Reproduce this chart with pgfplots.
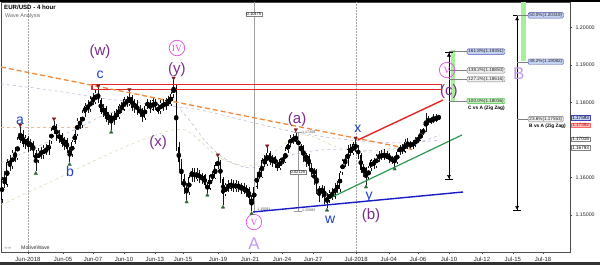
\documentclass[border=0pt]{standalone}
\usepackage{pgfplots}
\pgfplotsset{compat=1.18}
\usepackage{pgfplotstable}
\usetikzlibrary{arrows.meta}
\usepackage{fontspec}
\setmainfont{Liberation Sans}
\newfontfamily\serifnum{Liberation Serif}
\newfontfamily\dejavu{DejaVu Sans}
\newcommand{\fs}[1]{\fontsize{#1}{#1}\selectfont}

\definecolor{wpurple}{HTML}{7A2A8C}
\definecolor{wblue}{HTML}{1E3FD0}
\definecolor{wpink}{HTML}{E050E0}
\definecolor{wlav}{HTML}{C49AE8}
\definecolor{trired}{HTML}{7A1E1E}
\definecolor{trigreen}{HTML}{2F6A3A}
\definecolor{orng}{HTML}{F0883A}
\definecolor{hlgreen}{HTML}{A6F09A}
\definecolor{fibblue}{HTML}{C5D3F2}
\definecolor{fibgreen}{HTML}{C6F0C0}
\definecolor{fibgray}{HTML}{F0F0F0}
\definecolor{tline}{HTML}{2E9A50}
\definecolor{bline}{HTML}{1A1AC8}
\definecolor{rline}{HTML}{E52626}
\definecolor{malav}{HTML}{B8ACDA}
\definecolor{magray}{HTML}{A8B8D0}
\definecolor{matan}{HTML}{D2D8A4}

% EUR/USD 4-hour candles: index, open, high, low, close
\pgfplotstableread{
t o h l c
0 1.1540 1.1602 1.1532 1.1595
1 1.1595 1.1618 1.1572 1.1580
2 1.1580 1.1650 1.1575 1.1640
3 1.1640 1.1660 1.1618 1.1628
4 1.1628 1.1672 1.1622 1.1665
5 1.1665 1.1680 1.1642 1.1650
6 1.1650 1.1708 1.1646 1.1700
7 1.1700 1.1734 1.1692 1.1715
8 1.1715 1.1725 1.1680 1.1688
9 1.1688 1.1712 1.1675 1.1705
10 1.1705 1.1710 1.1668 1.1680
11 1.1680 1.1702 1.1670 1.1695
12 1.1695 1.1698 1.1655 1.1665
13 1.1665 1.1672 1.1616 1.1645
14 1.1645 1.1678 1.1638 1.1670
15 1.1670 1.1682 1.1650 1.1658
16 1.1658 1.1685 1.1650 1.1678
17 1.1678 1.1688 1.1660 1.1665
18 1.1665 1.1700 1.1660 1.1695
19 1.1695 1.1732 1.1688 1.1725
20 1.1725 1.1750 1.1715 1.1738
21 1.1738 1.1742 1.1698 1.1705
22 1.1705 1.1725 1.1692 1.1712
23 1.1712 1.1718 1.1680 1.1690
24 1.1690 1.1708 1.1672 1.1700
25 1.1700 1.1705 1.1665 1.1675
26 1.1675 1.1682 1.1640 1.1660
27 1.1660 1.1700 1.1655 1.1695
28 1.1695 1.1725 1.1688 1.1715
29 1.1715 1.1758 1.1710 1.1750
30 1.1750 1.1762 1.1728 1.1738
31 1.1738 1.1780 1.1732 1.1772
32 1.1772 1.1798 1.1762 1.1790
33 1.1790 1.1805 1.1772 1.1780
34 1.1780 1.1818 1.1775 1.1810
35 1.1810 1.1825 1.1792 1.1800
36 1.1800 1.1834 1.1796 1.1825
37 1.1825 1.1838 1.1798 1.1805
38 1.1805 1.1812 1.1770 1.1775
39 1.1775 1.1795 1.1762 1.1785
40 1.1785 1.1790 1.1748 1.1755
41 1.1755 1.1775 1.1740 1.1768
42 1.1768 1.1772 1.1726 1.1745
43 1.1745 1.1778 1.1740 1.1770
44 1.1770 1.1782 1.1752 1.1760
45 1.1760 1.1796 1.1755 1.1790
46 1.1790 1.1802 1.1772 1.1780
47 1.1780 1.1815 1.1776 1.1808
48 1.1808 1.1818 1.1788 1.1795
49 1.1795 1.1828 1.1790 1.1815
50 1.1815 1.1820 1.1778 1.1785
51 1.1785 1.1810 1.1772 1.1800
52 1.1800 1.1805 1.1765 1.1772
53 1.1772 1.1792 1.1760 1.1782
54 1.1782 1.1786 1.1747 1.1758
55 1.1758 1.1796 1.1754 1.1790
56 1.1790 1.1810 1.1782 1.1800
57 1.1800 1.1805 1.1772 1.1780
58 1.1780 1.1812 1.1776 1.1805
59 1.1805 1.1810 1.1780 1.1788
60 1.1788 1.1795 1.1768 1.1775
61 1.1775 1.1806 1.1770 1.1800
62 1.1800 1.1808 1.1778 1.1785
63 1.1785 1.1812 1.1780 1.1805
64 1.1805 1.1818 1.1790 1.1795
65 1.1795 1.1828 1.1790 1.1822
66 1.1822 1.1859 1.1812 1.1840
67 1.1840 1.1845 1.1670 1.1680
68 1.1680 1.1695 1.1620 1.1640
69 1.1640 1.1648 1.1580 1.1595
70 1.1595 1.1610 1.1555 1.1575
71 1.1575 1.1585 1.1540 1.1560
72 1.1560 1.1606 1.1552 1.1600
73 1.1600 1.1625 1.1588 1.1620
74 1.1620 1.1626 1.1588 1.1595
75 1.1595 1.1625 1.1590 1.1615
76 1.1615 1.1620 1.1585 1.1592
77 1.1592 1.1612 1.1582 1.1605
78 1.1605 1.1610 1.1572 1.1580
79 1.1580 1.1588 1.1558 1.1570
80 1.1570 1.1610 1.1565 1.1605
81 1.1605 1.1618 1.1590 1.1598
82 1.1598 1.1640 1.1595 1.1632
83 1.1632 1.1654 1.1622 1.1640
84 1.1640 1.1646 1.1585 1.1595
85 1.1595 1.1600 1.1526 1.1555
86 1.1555 1.1586 1.1550 1.1580
87 1.1580 1.1592 1.1562 1.1570
88 1.1570 1.1595 1.1564 1.1588
89 1.1588 1.1592 1.1560 1.1568
90 1.1568 1.1594 1.1562 1.1585
91 1.1585 1.1590 1.1560 1.1570
92 1.1570 1.1586 1.1555 1.1578
93 1.1578 1.1584 1.1555 1.1562
94 1.1562 1.1580 1.1548 1.1570
95 1.1570 1.1574 1.1530 1.1545
96 1.1545 1.1552 1.1509 1.1530
97 1.1530 1.1582 1.1525 1.1575
98 1.1575 1.1615 1.1568 1.1610
99 1.1610 1.1625 1.1595 1.1600
100 1.1600 1.1652 1.1598 1.1645
101 1.1645 1.1660 1.1628 1.1635
102 1.1635 1.1678 1.1630 1.1665
103 1.1665 1.1670 1.1632 1.1640
104 1.1640 1.1660 1.1628 1.1655
105 1.1655 1.1658 1.1625 1.1635
106 1.1635 1.1645 1.1618 1.1625
107 1.1625 1.1652 1.1620 1.1648
108 1.1648 1.1660 1.1635 1.1640
109 1.1640 1.1680 1.1638 1.1672
110 1.1672 1.1698 1.1665 1.1688
111 1.1688 1.1712 1.1680 1.1705
112 1.1705 1.1715 1.1688 1.1695
113 1.1695 1.1721 1.1690 1.1710
114 1.1710 1.1715 1.1668 1.1675
115 1.1675 1.1690 1.1660 1.1682
116 1.1682 1.1686 1.1640 1.1650
117 1.1650 1.1665 1.1628 1.1658
118 1.1658 1.1662 1.1618 1.1630
119 1.1630 1.1638 1.1600 1.1610
120 1.1610 1.1625 1.1580 1.1618
121 1.1618 1.1622 1.1555 1.1570
122 1.1570 1.1578 1.1535 1.1560
123 1.1560 1.1580 1.1545 1.1572
124 1.1572 1.1576 1.1530 1.1545
125 1.1545 1.1558 1.1518 1.1538
126 1.1538 1.1566 1.1532 1.1560
127 1.1560 1.1572 1.1540 1.1548
128 1.1548 1.1586 1.1542 1.1580
129 1.1580 1.1590 1.1558 1.1568
130 1.1568 1.1618 1.1562 1.1612
131 1.1612 1.1650 1.1605 1.1645
132 1.1645 1.1660 1.1628 1.1635
133 1.1635 1.1685 1.1630 1.1675
134 1.1675 1.1688 1.1658 1.1665
135 1.1665 1.1694 1.1660 1.1688
136 1.1688 1.1699 1.1668 1.1675
137 1.1675 1.1685 1.1650 1.1660
138 1.1660 1.1665 1.1612 1.1620
139 1.1620 1.1635 1.1600 1.1625
140 1.1625 1.1628 1.1580 1.1600
141 1.1600 1.1630 1.1592 1.1625
142 1.1625 1.1650 1.1618 1.1645
143 1.1645 1.1652 1.1622 1.1630
144 1.1630 1.1662 1.1625 1.1658
145 1.1658 1.1670 1.1642 1.1650
146 1.1650 1.1672 1.1645 1.1665
147 1.1665 1.1675 1.1645 1.1650
148 1.1650 1.1670 1.1648 1.1662
149 1.1662 1.1666 1.1638 1.1645
150 1.1645 1.1658 1.1635 1.1652
151 1.1652 1.1658 1.1628 1.1640
152 1.1640 1.1672 1.1636 1.1668
153 1.1668 1.1686 1.1660 1.1680
154 1.1680 1.1690 1.1662 1.1668
155 1.1668 1.1702 1.1665 1.1695
156 1.1695 1.1705 1.1675 1.1682
157 1.1682 1.1698 1.1672 1.1692
158 1.1692 1.1700 1.1675 1.1685
159 1.1685 1.1708 1.1682 1.1702
160 1.1702 1.1712 1.1692 1.1698
161 1.1698 1.1728 1.1696 1.1720
162 1.1720 1.1732 1.1712 1.1725
163 1.1725 1.1772 1.1720 1.1758
164 1.1758 1.1764 1.1740 1.1745
165 1.1745 1.1762 1.1742 1.1758
166 1.1758 1.1768 1.1746 1.1750
167 1.1750 1.1768 1.1748 1.1762
168 1.1762 1.1766 1.1752 1.1759
}\candles

\begin{document}
\begin{tikzpicture}[x=1pt,y=1pt]
\path[use as bounding box] (0,0) rectangle (600,265);
\fill[white] (0,0) rectangle (600,265);
\begin{axis}[
  at={(1pt,13pt)}, anchor=south west,
  scale only axis, width=569pt, height=250pt,
  xmin=-0.385, xmax=218.46, ymin=1.14008, ymax=1.20675,
  clip=false,
  axis line style={black!70, line width=0.5pt},
  tick align=outside, xtick pos=bottom, ytick pos=right, yticklabel pos=right,
  major tick length=2pt, minor tick length=1.2pt,
  tick style={black!70, line width=0.4pt},
  xtick={10,23.5,35,46.9,58.8,69.6,83.1,95.4,107.7,119.6,136.2,148.8,160,171.9,184.6,196.5,208.1},
  xticklabels={Jun-2018,Jun-05,Jun-07,Jun-10,Jun-13,Jun-15,Jun-19,Jun-21,Jun-24,Jun-27,Jul-2018,Jul-04,Jul-06,Jul-10,Jul-12,Jul-15,Jul-18},
  ytick={1.15,1.16,1.17,1.18,1.19,1.20},
  yticklabels={1.15000,1.16000,{},1.18000,1.19000,1.20000},
  minor ytick={1.141,1.142,...,1.206},
  scaled y ticks=false,
  xticklabel style={font=\fs{6}, text=black!85},
  yticklabel style={font=\fs{5.3}, text=black!85},
]

% month separators
\addplot[gray!70, densely dotted, line width=0.5pt] coordinates {(10,1.14008)(10,1.20675)};
\addplot[gray!70, densely dotted, line width=0.5pt] coordinates {(136.2,1.14008)(136.2,1.20675)};

% moving averages
\addplot[malav, dashed, line width=0.5pt, smooth] coordinates {(-0.4,1.18488)(18.5,1.18328)(37.7,1.18115)(56.9,1.17955)(76.2,1.17795)(95.4,1.17475)(114.6,1.17181)(133.8,1.16995)(153.1,1.16915)(168.5,1.16995)};
\addplot[magray, dashed, line width=0.5pt, smooth] coordinates {(-0.4,1.16381)(10.8,1.16728)(30,1.17341)(41.5,1.17715)(56.9,1.17848)(67.3,1.17875)(78.8,1.16915)(86.5,1.16461)(95.4,1.16248)(103.1,1.16408)(110.8,1.16595)(122.3,1.16728)(133.8,1.16728)(145.4,1.16728)(156.9,1.16861)(168.5,1.17128)};
\addplot[matan, dashed, line width=0.5pt, smooth] coordinates {(-0.4,1.15261)(18.5,1.15875)(37.7,1.16515)(56.9,1.17075)(70.4,1.17261)(83.8,1.16515)(97.3,1.16328)(114.6,1.17128)(130,1.16781)(145.4,1.16675)(160.8,1.16995)};
\addplot[orng!60, dashed, line width=0.5pt] coordinates {(-0.4,1.17341)(33,1.17341)};

% candles: wicks
\addplot[only marks, mark=none, error bars/.cd, y dir=both, y explicit, error mark=none,
  error bar style={black!90, line width=0.45pt}]
  table[x=t, y expr={(\thisrow{h}+\thisrow{l})/2}, y error expr={(\thisrow{h}-\thisrow{l})/2}] {\candles};
% candles: falling bodies
\addplot[only marks, mark=none, unbounded coords=discard, error bars/.cd, y dir=both, y explicit, error mark=none,
  error bar style={black, line width=1.4pt}]
  table[x=t, y expr={\thisrow{c}<\thisrow{o} ? (\thisrow{o}+\thisrow{c})/2 : nan}, y error expr={max(abs(\thisrow{o}-\thisrow{c})/2,0.00004)}] {\candles};
% candles: rising bodies (hollow)
\addplot[only marks, mark=none, unbounded coords=discard, error bars/.cd, y dir=both, y explicit, error mark=none,
  error bar style={black, line width=1.5pt}]
  table[x=t, y expr={\thisrow{c}>\thisrow{o} ? (\thisrow{o}+\thisrow{c})/2 : nan}, y error expr={max(abs(\thisrow{o}-\thisrow{c})/2,0.00004)}] {\candles};
\addplot[only marks, mark=none, unbounded coords=discard, error bars/.cd, y dir=both, y explicit, error mark=none,
  error bar style={white, line width=0.8pt}]
  table[x=t, y expr={\thisrow{c}>\thisrow{o} ? (\thisrow{o}+\thisrow{c})/2 : nan}, y error expr={max(abs(\thisrow{o}-\thisrow{c})/2-0.00010,0.00001)}] {\candles};

% measurements
\addplot[gray!75, line width=0.5pt] coordinates {(96.9,1.15091)(96.9,1.20675)};
\addplot[gray!80, line width=0.5pt, {Bar[width=8pt]}-{Bar[width=8pt]}] coordinates {(113.8,1.17208)(113.8,1.15083)};

% resistance zone
\addplot[rline, line width=1.1pt] coordinates {(34.6,1.18475)(169.2,1.18475)(169.2,1.18341)(34.6,1.18341)} --cycle;

% trend lines
\addplot[orng, line width=1.3pt, dash pattern=on 5pt off 3pt] coordinates {(-0.4,1.18941)(157.7,1.16744)};
\addplot[bline, line width=1.4pt] coordinates {(96.5,1.15075)(177.3,1.15608)};
\addplot[tline, line width=1.2pt] coordinates {(126.2,1.15448)(176.9,1.17128)};
\addplot[rline, line width=1.4pt] coordinates {(136.9,1.16995)(169.6,1.18061)};

% swing markers
\addplot[only marks, mark=triangle*, mark size=2pt, color=trired, mark options={yshift=2.2pt, rotate=180}]
  coordinates {(7,1.1734)(20,1.1750)(37,1.1838)(49,1.1828)(66,1.1859)(83,1.1654)(102,1.1678)(113,1.1721)(136,1.1699)};
\addplot[only marks, mark=triangle*, mark size=2pt, color=trigreen, mark options={yshift=-2.2pt}]
  coordinates {(13,1.1616)(26,1.1640)(42,1.1726)(71,1.1540)(79,1.1558)(85,1.1526)(96,1.1509)(125,1.1518)(140,1.1580)(151,1.1628)};

% Fibonacci projections
\addplot[hlgreen, fill=hlgreen, draw=none] coordinates {(172.5,1.19395)(174.4,1.19395)(174.4,1.18035)(172.5,1.18035)} --cycle;
\addplot[hlgreen, fill=hlgreen, draw=none] coordinates {(199.6,1.20675)(201.5,1.20675)(201.5,1.19101)(199.6,1.19101)} --cycle;
\addplot[black, line width=0.6pt, {Bar[width=8pt]}-{Bar[width=8pt]}] coordinates {(171.9,1.19351)(171.9,1.15928)};
\addplot[black, line width=0.6pt, {Bar[width=8pt]}-{Bar[width=8pt]}] coordinates {(198.1,1.20319)(198.1,1.15101)};
\addplot[only marks, mark=triangle*, mark size=1.8pt, black] coordinates {(171.9,1.19250)(198.1,1.20218)};
\addplot[only marks, mark=triangle*, mark size=1.8pt, black, mark options={rotate=180}] coordinates {(171.9,1.16030)(198.1,1.15203)};
\addplot[gray, line width=0.4pt] coordinates {(171.9,1.19351)(178.8,1.19351)};
\addplot[gray, line width=0.4pt] coordinates {(171.9,1.18850)(178.8,1.18850)};
\addplot[gray, line width=0.4pt] coordinates {(171.9,1.18616)(178.8,1.18616)};
\addplot[gray, line width=0.4pt] coordinates {(171.9,1.18036)(178.8,1.18036)};
\addplot[gray, line width=0.4pt] coordinates {(198.1,1.20319)(202.3,1.20319)};
\addplot[gray, line width=0.4pt] coordinates {(198.1,1.19082)(202.3,1.19082)};
\addplot[gray, line width=0.4pt] coordinates {(198.1,1.17553)(202.3,1.17553)};

\tikzset{
  fib/.style={anchor=west, rounded corners=1.2pt, line width=0.4pt, font=\fs{4.6}, text=black!85, inner xsep=1.3pt, inner ysep=0.6pt},
  pbox/.style={anchor=west, line width=0.4pt, font=\fs{4.6}, inner xsep=1pt, inner ysep=0.6pt},
  purp/.style={text=wpurple, font=\fs{15}, inner sep=0pt},
  blu/.style={text=wblue, font=\fs{14}, inner sep=0pt},
  circ/.style={circle, draw=wpink, line width=0.7pt, minimum size=15.5pt, inner sep=0pt, text=wpink, font=\serifnum\fs{9.5}},
}
\node[fib, draw=blue!40!gray, fill=fibblue] at (axis cs:178.8,1.19351) {161.8\%(1.19351)};
\node[fib, draw=gray, fill=fibgray] at (axis cs:178.8,1.18850) {138.2\%(1.18850)};
\node[fib, draw=gray, fill=fibgray] at (axis cs:178.8,1.18616) {127.2\%(1.18616)};
\node[fib, draw=green!50!gray, fill=fibgreen] at (axis cs:178.8,1.18036) {100.0\%(1.18036)};
\node[anchor=west, font=\bfseries\fs{4.8}, inner sep=0pt] at (axis cs:179.2,1.17848) {C vs A (Zig Zag)};
\node[fib, draw=blue!40!gray, fill=fibblue] at (axis cs:202.3,1.20319) {50.0\%(1.20319)};
\node[fib, draw=blue!40!gray, fill=fibblue] at (axis cs:202.3,1.19082) {38.2\%(1.19082)};
\node[fib, draw=gray, fill=fibgray] at (axis cs:202.3,1.17553) {23.6\%(1.17553)};
\node[anchor=west, font=\bfseries\fs{4.8}, inner sep=0pt] at (axis cs:202.7,1.17355) {B vs A (Zig Zag)};

% price tags on the price scale
\node[pbox, draw=blue!50!gray, fill=fibblue] at (axis cs:218.9,1.17593) {1.17593};
\node[pbox, draw=red!60, fill=red!25, text=red!70!black] at (axis cs:218.9,1.17392) {1.17392};
\node[pbox, draw=gray, fill=white] at (axis cs:218.9,1.17015) {1.17015};
\node[pbox, draw=gray, fill=white] at (axis cs:218.9,1.16793) {1.16793};

% measurement tags
\node[draw=gray, fill=white, font=\fs{4}, inner sep=0.8pt] at (axis cs:96.9,1.20355) {0.10475};
\node[draw=gray, fill=white, font=\fs{4}, inner sep=0.8pt] at (axis cs:113.8,1.16141) {0.02125};
\node[anchor=west, font=\fs{3.6}, text=black!70, inner sep=0pt] at (axis cs:115.4,1.17208) {1.17208};
\node[anchor=west, font=\fs{3.6}, text=black!70, inner sep=0pt] at (axis cs:98.1,1.15160) {1.15091};
\node[anchor=west, font=\fs{3.6}, text=black!70, inner sep=0pt] at (axis cs:115.4,1.15110) {1.15083};

% wave labels
\node[purp] at (axis cs:37.7,1.19341) {(w)};
\node[blu] at (axis cs:37.7,1.18728) {c};
\node[blu] at (axis cs:6.9,1.17501) {a};
\node[blu] at (axis cs:26.2,1.16168) {b};
\node[purp] at (axis cs:67.3,1.18861) {(y)};
\node[circ] at (axis cs:67.3,1.19448) {IV};
\node[purp] at (axis cs:60,1.16915) {(x)};
\node[circ] at (axis cs:96.9,1.14808) {V};
\node[text=wlav, font=\fs{17}, inner sep=0pt] at (axis cs:96.9,1.14221) {A};
\node[purp] at (axis cs:113.5,1.17528) {(a)};
\node[blu] at (axis cs:126.2,1.14861) {w};
\node[blu] at (axis cs:136.9,1.17288) {x};
\node[blu] at (axis cs:141.2,1.15475) {y};
\node[purp] at (axis cs:141.9,1.14968) {(b)};
\node[purp] at (axis cs:171.9,1.18275) {(c)};
\node[circ] at (axis cs:171.2,1.18861) {V};
\node[text=wlav, font=\fs{17}, inner sep=0pt] at (axis cs:198.8,1.18755) {B};
\end{axis}

% window chrome
\fill[black] (0,263) rectangle (600,265);
\fill[black!80] (0,0) rectangle (600,2.5);
\node[anchor=west, font=\bfseries\fs{6.1}, inner sep=0pt] at (4,257.5) {EUR/USD - 4 hour};
\node[anchor=west, font=\fs{5.4}, text=black!60, inner sep=0pt] at (5,249) {Wave Analysis};
\node[anchor=west, font=\dejavu\fs{4.5}, text=gray, inner sep=0pt] at (4,17) {∞∞};
\node[anchor=west, font=\fs{5.2}, text=black!80, inner sep=0pt] at (21,17) {MotiveWave};
\end{tikzpicture}
\end{document}
